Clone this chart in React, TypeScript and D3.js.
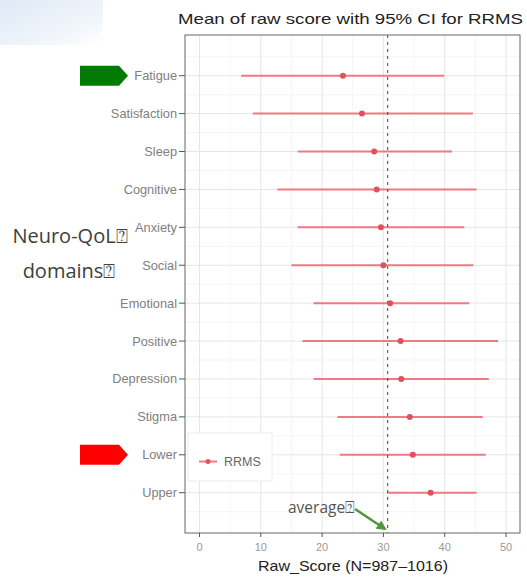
import React from "react";
import * as d3 from "d3";

const categories = ["Fatigue","Satisfaction","Sleep","Cognitive","Anxiety","Social","Emotional","Positive","Depression","Stigma","Lower","Upper"];
const means = [23.4, 26.5, 28.5, 28.9, 29.6, 30.0, 31.1, 32.8, 32.9, 34.3, 34.8, 37.7];
const lowers = [6.8, 8.7, 16.0, 12.7, 16.0, 15.0, 18.6, 16.8, 18.6, 22.5, 22.9, 30.6];
const uppers = [39.9, 44.6, 41.2, 45.2, 43.2, 44.7, 44.0, 48.7, 47.2, 46.2, 46.7, 45.2];
const xTicks = [0, 10, 20, 30, 40, 50];
const xMinor = [5, 15, 25, 35, 45];
const averageValue = 30.7;

const W = 527, H = 577;
const panel = { left: 185, right: 520, top: 35, bottom: 533 };

export default function App() {
  const x = d3.scaleLinear().domain([0, 50]).range([199.5, 506]);
  const y = d3.scalePoint<string>().domain(categories).range([75.7, 492.7]);
  const step = y.step();
  const minorY = [(y(categories[0]) as number) - step / 2, ...categories.map((c) => (y(c) as number) + step / 2)];
  const lineColor = "#ee7a84";
  const pointColor = "#e0515e";
  const chartFont = "'Liberation Sans', Arial, sans-serif";
  const annoFont = "'Open Sans', 'Noto Sans', sans-serif";

  const arrowShape = (x0: number, yc: number, color: string) => {
    const h = 10;
    const p = [[x0, yc - h], [x0 + 39, yc - h], [x0 + 48, yc], [x0 + 39, yc + h], [x0, yc + h]];
    return <polygon points={p.map((q) => q.join(",")).join(" ")} fill={color} />;
  };

  return (
    <svg width={W} height={H} style={{ position: "absolute", left: 0, top: 0, background: "#fff" }} xmlns="http://www.w3.org/2000/svg">
      <defs>
        <linearGradient id="corner" x1="0" y1="0" x2="1" y2="1">
          <stop offset="0" stopColor="#dfe9f5" />
          <stop offset="0.6" stopColor="#eef4fa" />
          <stop offset="1" stopColor="#ffffff" />
        </linearGradient>
        <marker id="ah" viewBox="0 0 10 10" refX="8" refY="5" markerWidth="4" markerHeight="4" orient="auto">
          <path d="M0,0 L10,5 L0,10 z" fill="#4e9a3a" />
        </marker>
      </defs>
      <rect x={0} y={0} width={W} height={H} fill="#fff" />
      <rect x={0} y={0} width={103} height={45} fill="url(#corner)" />

      <text x={178} y={23.5} fontFamily={chartFont} fontSize={15} fill="#222" textLength={345} lengthAdjust="spacingAndGlyphs">Mean of raw score with 95% CI for RRMS</text>

      {/* panel */}
      <rect x={panel.left} y={panel.top} width={panel.right - panel.left} height={panel.bottom - panel.top} fill="#fff" />
      {xMinor.map((v) => (
        <line key={"xm" + v} x1={x(v)} x2={x(v)} y1={panel.top} y2={panel.bottom} stroke="#f2f2f2" strokeWidth={0.8} />
      ))}
      {minorY.map((v, i) => (
        <line key={"ym" + i} x1={panel.left} x2={panel.right} y1={v} y2={v} stroke="#f2f2f2" strokeWidth={0.8} />
      ))}
      {xTicks.map((v) => (
        <line key={"xg" + v} x1={x(v)} x2={x(v)} y1={panel.top} y2={panel.bottom} stroke="#e6e6e6" strokeWidth={1} />
      ))}
      {categories.map((c) => (
        <line key={"yg" + c} x1={panel.left} x2={panel.right} y1={y(c)} y2={y(c)} stroke="#e6e6e6" strokeWidth={1} />
      ))}

      {/* CI bars */}
      {categories.map((c, i) => (
        <line key={"ci" + c} x1={x(lowers[i])} x2={x(uppers[i])} y1={y(c)} y2={y(c)} stroke={lineColor} strokeWidth={2} />
      ))}

      <line x1={x(averageValue)} x2={x(averageValue)} y1={panel.top} y2={panel.bottom} stroke="#444" strokeWidth={1} strokeDasharray="3,4" />

      {categories.map((c, i) => (
        <circle key={"pt" + c} cx={x(means[i])} cy={y(c)} r={3} fill={pointColor} />
      ))}

      <rect x={panel.left} y={panel.top} width={panel.right - panel.left} height={panel.bottom - panel.top} fill="none" stroke="#666" strokeWidth={1} />

      {/* y axis */}
      {categories.map((c) => (
        <g key={"yl" + c}>
          <line x1={179} x2={panel.left} y1={y(c)} y2={y(c)} stroke="#555" strokeWidth={1} />
          <text x={177} y={(y(c) as number) + 4.5} textAnchor="end" fontFamily={chartFont} fontSize={12.8} fill="#808080">{c}</text>
        </g>
      ))}

      {/* x axis */}
      {xTicks.map((v) => (
        <g key={"xl" + v}>
          <line x1={x(v)} x2={x(v)} y1={panel.bottom} y2={panel.bottom + 4} stroke="#555" strokeWidth={1} />
          <text x={x(v)} y={550.5} textAnchor="middle" fontFamily={chartFont} fontSize={11} fill="#999">{v}</text>
        </g>
      ))}
      <text x={258} y={571} fontFamily={chartFont} fontSize={14.5} fill="#222" textLength={190} lengthAdjust="spacingAndGlyphs">Raw_Score (N=987–1016)</text>

      {/* legend */}
      <rect x={188} y={433} width={84} height={48} fill="#fff" stroke="#ececec" strokeWidth={1} />
      <line x1={199} x2={217} y1={461.5} y2={461.5} stroke={lineColor} strokeWidth={2} />
      <circle cx={208} cy={461.5} r={2.5} fill={pointColor} />
      <text x={224} y={466} fontFamily={chartFont} fontSize={12.5} fill="#666">RRMS</text>

      {/* annotations */}
      {arrowShape(80, y("Fatigue") as number, "#007a00")}
      {arrowShape(80, y("Lower") as number, "#ff0000")}
      <text x={70} y={243} textAnchor="middle" fontFamily={annoFont} fontSize={20} fill="#404040">Neuro-QoL⍰</text>
      <text x={69} y={278} textAnchor="middle" fontFamily={annoFont} fontSize={20} fill="#404040">domains⍰</text>
      <text x={288} y={513} fontFamily={annoFont} fontSize={15.5} fill="#555">average⍰</text>
      <line x1={355} x2={385} y1={509} y2={529} stroke="#4e9a3a" strokeWidth={2.5} markerEnd="url(#ah)" />
    </svg>
  );
}
